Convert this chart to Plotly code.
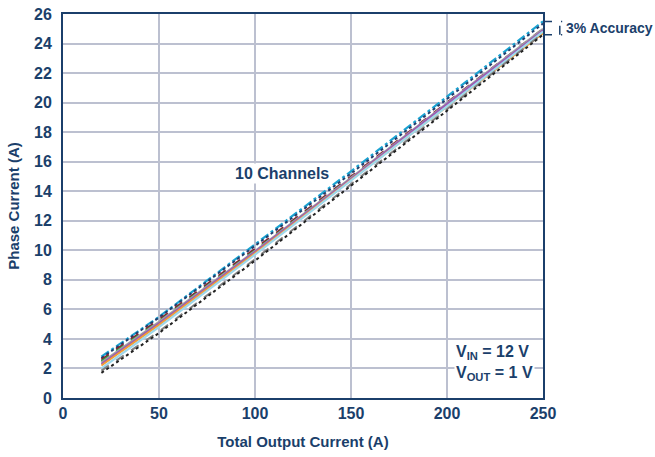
import plotly.graph_objects as go

total_current = [20, 50, 100, 150, 200, 250]

ch1 = [2.80, 5.50, 10.40, 15.35, 20.40, 25.50]   # cyan dash-dot top
ch2 = [2.70, 5.45, 10.30, 15.20, 20.25, 25.35]   # navy dot
ch3 = [2.60, 5.30, 10.10, 15.00, 20.00, 25.00]   # dark red dash
ch4 = [2.50, 5.20, 10.00, 14.90, 19.85, 24.75]   # green dash
ch5 = [2.40, 5.15, 9.95, 14.90, 19.95, 25.00]    # gray solid
ch6 = [2.30, 5.05, 9.90, 14.85, 19.90, 24.90]    # purple solid
ch7 = [2.20, 4.95, 9.80, 14.75, 19.75, 24.70]    # orange solid
ch8 = [2.00, 4.80, 9.70, 14.70, 19.75, 24.80]    # light blue solid
ch9 = [1.85, 4.50, 9.40, 14.45, 19.55, 24.70]    # gray dash
ch10 = [1.70, 4.40, 9.30, 14.35, 19.45, 24.60]   # black dot

series = [
    ("Ch1", ch1, "#1BA3D2", "dashdot", 2.2),
    ("Ch2", ch2, "#1F3F6E", "dot", 2),
    ("Ch3", ch3, "#8B1A2E", "dash", 2),
    ("Ch4", ch4, "#2EA043", "dash", 2),
    ("Ch5", ch5, "#A0A0A0", "solid", 2.2),
    ("Ch6", ch6, "#9B59B6", "solid", 2),
    ("Ch7", ch7, "#F39C34", "solid", 2),
    ("Ch8", ch8, "#9ED8EC", "solid", 2.2),
    ("Ch9", ch9, "#808080", "dash", 2),
    ("Ch10", ch10, "#222222", "dot", 2),
]

x_ticks = [0, 50, 100, 150, 200, 250]
y_ticks = list(range(0, 27, 2))

navy = "#1B3F6B"
grid = "#BCC0D0"
font_family = "Liberation Sans, Arial, sans-serif"

fig = go.Figure()
for name, vals, color, dash, w in series:
    fig.add_trace(go.Scatter(x=total_current, y=vals, mode="lines", name=name,
                             line=dict(color=color, dash=dash, width=w)))

fig.update_layout(
    width=655, height=457,
    margin=dict(l=63, r=112, t=14, b=59),
    paper_bgcolor="white", plot_bgcolor="white",
    showlegend=False,
    font=dict(family=font_family, color=navy, size=14),
)
fig.update_xaxes(range=[0, 250], tickvals=x_ticks, showgrid=True, gridcolor=grid, gridwidth=1.8,
                 showline=True, linecolor=navy, linewidth=2, mirror=True, zeroline=False,
                 automargin=False, ticks="", ticklen=0,
                 tickfont=dict(size=16, family=font_family, color=navy, weight="bold"),
                 title=dict(text="<b>Total Output Current (A)</b>", font=dict(size=15), standoff=15))
fig.update_yaxes(range=[0, 26], tickvals=y_ticks, showgrid=True, gridcolor=grid, gridwidth=1.8,
                 showline=True, linecolor=navy, linewidth=2, mirror=True, zeroline=False,
                 automargin=False, ticks="", ticklen=0, ticklabelstandoff=6,
                 tickfont=dict(size=16, family=font_family, color=navy, weight="bold"),
                 title=dict(text="<b>Phase Current (A)</b>", font=dict(size=15), standoff=11))

fig.add_annotation(x=114, y=15.2, text="<b>10 Channels</b>", showarrow=False,
                   bgcolor="white", font=dict(size=16, color=navy))
fig.add_annotation(x=246, y=2.35, xanchor="right", yanchor="middle",
                   text="<b>V<sub>IN</sub> = 12 V<br>V<sub>OUT</sub> = 1 V</b>", showarrow=False,
                   align="left", bgcolor="white", font=dict(size=16, color=navy))
fig.add_annotation(xref="paper", x=1.043, y=25.05, xanchor="left", text="<b>3% Accuracy</b>",
                   showarrow=False, font=dict(size=14, color=navy))

for yv in [25.5, 24.6]:
    fig.add_shape(type="line", xref="paper", x0=1.0, x1=1.04, y0=yv, y1=yv,
                  line=dict(color=navy, width=1.5, dash="dash"))
fig.add_shape(type="line", xref="paper", x0=1.035, x1=1.035, y0=24.6, y1=25.5,
              line=dict(color=navy, width=1.5, dash="dash"))

fig.write_html("out.html", config={"displayModeBar": False},
               post_script="document.body.style.margin='0';")
